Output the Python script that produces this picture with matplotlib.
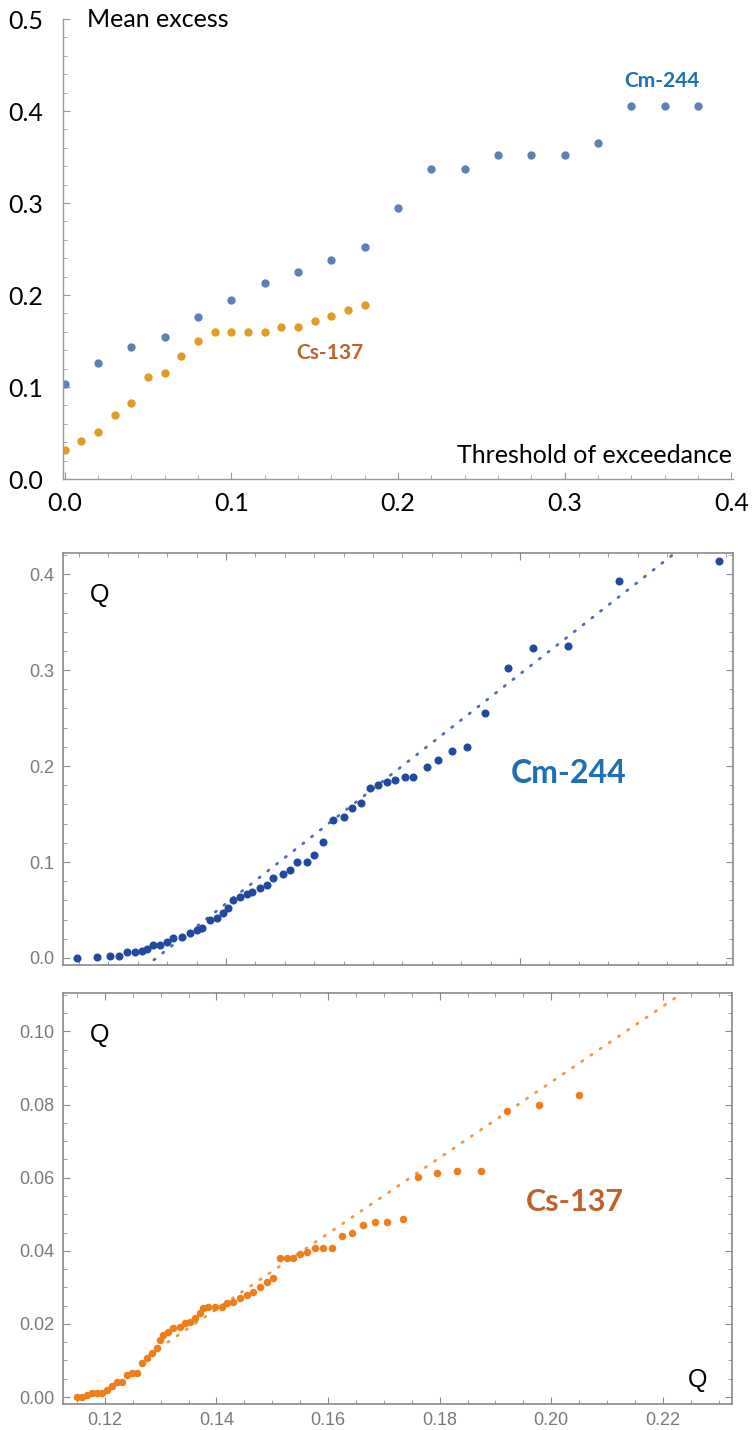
import matplotlib
matplotlib.use("Agg")
import matplotlib.pyplot as plt
from matplotlib.ticker import MultipleLocator, NullFormatter
import numpy as np

# ---------------- data: top panel (mean excess) ----------------
cm_threshold = [0.00, 0.02, 0.04, 0.06, 0.08, 0.10, 0.12, 0.14, 0.16, 0.18,
                0.20, 0.22, 0.24, 0.26, 0.28, 0.30, 0.32, 0.34, 0.36, 0.38]
cm_mean_excess = [0.103, 0.126, 0.143, 0.154, 0.176, 0.195, 0.213, 0.225, 0.238, 0.2525,
                  0.295, 0.337, 0.337, 0.3525, 0.3525, 0.3525, 0.365, 0.405, 0.405, 0.405]

cs_threshold = [0.00, 0.01, 0.02, 0.03, 0.04, 0.05, 0.06, 0.07, 0.08, 0.09,
                0.10, 0.11, 0.12, 0.13, 0.14, 0.15, 0.16, 0.17, 0.18]
cs_mean_excess = [0.032, 0.041, 0.051, 0.070, 0.083, 0.1105, 0.115, 0.134, 0.150, 0.160,
                  0.160, 0.160, 0.160, 0.1655, 0.1655, 0.172, 0.177, 0.184, 0.189]

# ---------------- data: middle panel (Cm-244 Q-Q) ----------------
cm_q_theor = [0.0493, 0.0561, 0.0605, 0.0636, 0.0663, 0.0690, 0.0714, 0.0731, 0.0752, 0.0776,
              0.0800, 0.0820, 0.0850, 0.0878, 0.0900, 0.0920, 0.0946, 0.0970, 0.0990, 0.1007,
              0.1024, 0.1048, 0.1070, 0.1090, 0.1116, 0.1140, 0.1160, 0.1194, 0.1218, 0.1240,
              0.1276, 0.1300, 0.1330, 0.1364, 0.1400, 0.1430, 0.1460, 0.1490, 0.1517, 0.1548,
              0.1575, 0.1610, 0.1636, 0.1684, 0.1721, 0.1769, 0.1820, 0.1880, 0.1959, 0.2044,
              0.2163, 0.2337, 0.2677]
cm_q_sample = [0.000, 0.001, 0.002, 0.002, 0.006, 0.006, 0.007, 0.009, 0.0135, 0.014,
               0.017, 0.021, 0.022, 0.026, 0.029, 0.031, 0.040, 0.042, 0.047, 0.052,
               0.060, 0.064, 0.067, 0.069, 0.073, 0.076, 0.083, 0.088, 0.092, 0.100,
               0.100, 0.107, 0.121, 0.144, 0.147, 0.156, 0.161, 0.177, 0.180, 0.183,
               0.1855, 0.1885, 0.1885, 0.199, 0.206, 0.2156, 0.220, 0.255, 0.302, 0.323,
               0.325, 0.393, 0.4135]
cm_line_x = [0.0755, 0.2700]
cm_line_y = [-0.002, 0.4634]

# ---------------- data: bottom panel (Cs-137 Q-Q) ----------------
cs_q_theor = [0.1150, 0.1159, 0.1168, 0.1177, 0.1186, 0.1195, 0.1204, 0.1213, 0.1222, 0.1230,
              0.1239, 0.1248, 0.1257, 0.1266, 0.1275, 0.1284, 0.1293, 0.1299, 0.1304, 0.1313,
              0.1322, 0.1334, 0.1343, 0.1352, 0.1361, 0.1370, 0.1376, 0.1385, 0.1397, 0.1410,
              0.1419, 0.1430, 0.1442, 0.1455, 0.1465, 0.1478, 0.1490, 0.1501, 0.1514, 0.1526,
              0.1537, 0.1549, 0.1562, 0.1576, 0.1591, 0.1607, 0.1625, 0.1643, 0.1663, 0.1684,
              0.1705, 0.1734, 0.1761, 0.1795, 0.1831, 0.1874, 0.1920, 0.1978, 0.2050]
cs_q_sample = [0.0000, 0.0000, 0.0005, 0.0010, 0.0010, 0.0010, 0.0020, 0.0030, 0.0040, 0.0042,
               0.0060, 0.0065, 0.0067, 0.0093, 0.0107, 0.0120, 0.0134, 0.0156, 0.0170, 0.0178,
               0.0189, 0.0191, 0.0202, 0.0205, 0.0216, 0.0230, 0.0243, 0.0246, 0.0246, 0.0246,
               0.0257, 0.0260, 0.0270, 0.0280, 0.0287, 0.0300, 0.0315, 0.0325, 0.0380, 0.0380,
               0.0380, 0.0390, 0.0397, 0.0408, 0.0408, 0.0408, 0.0440, 0.0449, 0.0470, 0.0479,
               0.0479, 0.0487, 0.0602, 0.0613, 0.0618, 0.0618, 0.0782, 0.0799, 0.0826]
cs_line_x = [0.1280, 0.2300]
cs_line_y = [0.0116, 0.1172]

# ---------------- styling ----------------
W, H = 753, 1430
fig = plt.figure(figsize=(W / 100, H / 100), dpi=100)

top_font = "Lato"
blue_top = "#5e81b5"
orange_top = "#e19c24"
blue_dark = "#2249a0"
orange_q = "#f07d1a"
label_blue = "#1f6fb5"
label_orange = "#c0602a"
gray = "#8a8a8a"

def frac(l, t, r, b):
    return [l / W, 1 - b / H, (r - l) / W, (b - t) / H]

# ---- top panel ----
ax1 = fig.add_axes(frac(63, 19, 733, 479))
ax1.plot(cm_threshold, cm_mean_excess, "o", color=blue_top, ms=6.0, mec="none")
ax1.plot(cs_threshold, cs_mean_excess, "o", color=orange_top, ms=6.0, mec="none")
ax1.set_xlim(-0.001, 0.401)
ax1.set_ylim(0, 0.5)
for s in ["top", "right"]:
    ax1.spines[s].set_visible(False)
for s in ["left", "bottom"]:
    ax1.spines[s].set_color("#9a9a9a")
    ax1.spines[s].set_linewidth(1.0)
ax1.xaxis.set_minor_locator(MultipleLocator(0.02))
ax1.yaxis.set_minor_locator(MultipleLocator(0.02))
ax1.tick_params(which="both", direction="in", color="#9a9a9a")
ax1.tick_params(which="major", length=5, width=0.8)
ax1.tick_params(which="minor", length=3, width=0.6)
ax1.tick_params(axis="x", pad=9)
ax1.tick_params(axis="y", pad=14)
ax1.set_xticks([0.0, 0.1, 0.2, 0.3, 0.4])
ax1.set_xticklabels(["0.0", "0.1", "0.2", "0.3", "0.4"], fontfamily=top_font, fontsize=18)
ax1.set_yticks([0.0, 0.1, 0.2, 0.3, 0.4, 0.5])
ax1.set_yticklabels(["0.0", "0.1", "0.2", "0.3", "0.4", "0.5"], fontfamily=top_font, fontsize=18)
ax1.text(0.036, 1.0, "Mean excess", transform=ax1.transAxes, fontsize=18,
         fontfamily=top_font, ha="left", va="center")
ax1.text(0.999, 0.052, "Threshold of exceedance", transform=ax1.transAxes, fontsize=18,
         fontfamily=top_font, ha="right", va="center")
ax1.text(0.3586, 0.4326, "Cm-244", color=label_blue, fontsize=15, fontweight="bold",
         fontfamily=top_font, ha="center", va="center")
ax1.text(0.159, 0.137, "Cs-137", color=label_orange, fontsize=15, fontweight="bold",
         fontfamily=top_font, ha="center", va="center")

# ---- helper for Q-Q panels ----
def style_qq(ax):
    for s in ax.spines.values():
        s.set_color(gray)
        s.set_linewidth(1.2)
    ax.tick_params(which="both", direction="in", color=gray, top=True, right=True,
                   labelcolor="#7a7a7a", labelsize=13, pad=6)
    ax.tick_params(which="major", length=5, width=0.8)
    ax.tick_params(which="minor", length=3, width=0.6)
    for lab in ax.get_xticklabels() + ax.get_yticklabels():
        lab.set_fontfamily("Liberation Sans")

# ---- middle panel ----
ax2 = fig.add_axes(frac(63, 553, 733, 965))
ax2.plot(cm_line_x, cm_line_y, color=blue_dark, lw=2.0, linestyle=(0, (0.5, 3.5)),
         dash_capstyle="round", alpha=0.8)
ax2.plot(cm_q_theor, cm_q_sample, "o", color=blue_dark, ms=5.8, mec="none")
ax2.set_xlim(0.0446, 0.2724)
ax2.set_ylim(-0.0073, 0.422)
ax2.xaxis.set_major_locator(MultipleLocator(0.1))
ax2.xaxis.set_minor_locator(MultipleLocator(0.01))
ax2.xaxis.set_major_formatter(NullFormatter())
ax2.yaxis.set_minor_locator(MultipleLocator(0.02))
ax2.set_yticks([0.0, 0.1, 0.2, 0.3, 0.4])
ax2.set_yticklabels(["0.0", "0.1", "0.2", "0.3", "0.4"])
style_qq(ax2)
ax2.text(0.754, 0.466, "Cm-244", transform=ax2.transAxes, color=label_blue, fontsize=23,
         fontweight="bold", fontfamily=top_font, ha="center", va="center")
ax2.text(0.055, 0.898, "Q", transform=ax2.transAxes, fontsize=18,
         fontfamily="Liberation Sans", ha="center", va="center")

# ---- bottom panel ----
ax3 = fig.add_axes(frac(63, 993, 732, 1404))
ax3.plot(cs_line_x, cs_line_y, color=orange_q, lw=2.0, linestyle=(0, (0.5, 3.5)),
         dash_capstyle="round", alpha=0.8)
ax3.plot(cs_q_theor, cs_q_sample, "o", color=orange_q, ms=5.4, mec="none")
ax3.set_xlim(0.1125, 0.2324)
ax3.set_ylim(-0.0019, 0.1105)
ax3.xaxis.set_minor_locator(MultipleLocator(0.005))
ax3.yaxis.set_minor_locator(MultipleLocator(0.005))
ax3.set_xticks([0.12, 0.14, 0.16, 0.18, 0.20, 0.22])
ax3.set_xticklabels(["0.12", "0.14", "0.16", "0.18", "0.20", "0.22"])
ax3.set_yticks([0.00, 0.02, 0.04, 0.06, 0.08, 0.10])
ax3.set_yticklabels(["0.00", "0.02", "0.04", "0.06", "0.08", "0.10"])
style_qq(ax3)
ax3.text(0.765, 0.491, "Cs-137", transform=ax3.transAxes, color=label_orange, fontsize=22,
         fontweight="bold", fontfamily=top_font, ha="center", va="center")
ax3.text(0.055, 0.898, "Q", transform=ax3.transAxes, fontsize=18,
         fontfamily="Liberation Sans", ha="center", va="center")
ax3.text(0.949, 0.058, "Q", transform=ax3.transAxes, fontsize=18,
         fontfamily="Liberation Sans", ha="center", va="center")

fig.savefig("out.png", dpi=100)
